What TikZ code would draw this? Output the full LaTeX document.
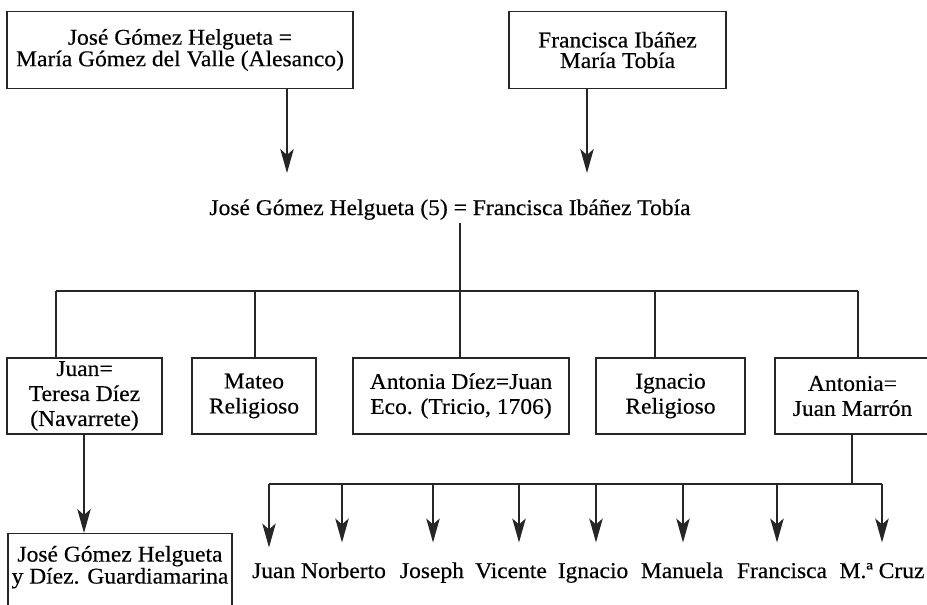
\documentclass[tikz,border=0pt]{standalone}
\usepackage{fontspec}
\setmainfont{Liberation Serif}[FakeStretch=1.045,FakeBold=0.4]
\usetikzlibrary{arrows.meta}
\begin{document}
\begin{tikzpicture}[x=1pt,y=-1pt,line width=1.1pt,draw=black!85,
  topbox/.style={draw,align=center,inner sep=0pt,font=\fontsize{22.5}{20.5}\selectfont},
  rowbox/.style={draw,align=center,inner sep=0pt,minimum height=76pt,font=\fontsize{22.5}{25}\selectfont},
  plain/.style={inner sep=3pt,font=\fontsize{22.5}{22}\selectfont},
  lab/.style={anchor=base,inner sep=0pt,text height=16pt,font=\fontsize{22.5}{22}\selectfont},
  arr/.style={-{Stealth[length=24pt,width=13.5pt,inset=6pt]}}]
\clip (0,0) rectangle (927,605);
% grandparents
\node[topbox,minimum width=346pt,minimum height=77pt] (gp1) at (180,50) {José Gómez Helgueta =\\María Gómez del Valle (Alesanco)};
\node[topbox,minimum width=217pt,minimum height=77pt] (gp2) at (617.5,50) {Francisca Ibáñez\\María Tobía};
% parents
\node[plain,anchor=base] (par) at (450,215) {José Gómez Helgueta (5) = Francisca Ibáñez Tobía};
\coordinate (t1) at (287,173);
\coordinate (t2) at (587,173);
\draw[arr] (gp1.south -| t1) -- (t1);
\draw[arr] (gp2.south -| t2) -- (t2);
% children
\node[rowbox,minimum width=155pt] (juan) at (84.5,396) {Juan=\\Teresa Díez\\(Navarrete)};
\node[rowbox,minimum width=124pt] (mateo) at (254,396) {Mateo\\Religioso};
\node[rowbox,minimum width=216pt] (antd) at (461,396) {Antonia Díez=Juan\\Eco. (Tricio, 1706)};
\node[rowbox,minimum width=149pt] (ign) at (670.5,396) {Ignacio\\Religioso};
\node[rowbox,minimum width=155pt] (antm) at (852.5,396) {Antonia=\\Juan Marrón};
\coordinate (h1) at (56,291);
\coordinate (h2) at (255,291);
\coordinate (h3) at (460,291);
\coordinate (h4) at (655,291);
\coordinate (h5) at (858,291);
\draw (par.south -| h3) -- (h3);
\draw (h1) -- (h5);
\draw (h1) -- (juan.north -| h1);
\draw (h2) -- (mateo.north -| h2);
\draw (h3) -- (antd.north -| h3);
\draw (h4) -- (ign.north -| h4);
\draw (h5) -- (antm.north -| h5);
% grandson
\node[draw,align=center,inner xsep=0pt,inner ysep=0pt,minimum width=224pt,anchor=north,
      text height=50pt,text depth=40pt,font=\fontsize{22.5}{22}\selectfont] (gb) at (120,533)
      {José Gómez Helgueta\\y Díez. Guardiamarina};
\coordinate (c84) at (84,480);
\draw[arr] (juan.south -| c84) -- (gb.north -| c84);
% children of Antonia = Juan Marron
\coordinate (m0) at (852,484);
\draw (antm.south -| m0) -- (m0);
\coordinate (b1) at (269,484);
\coordinate (b2) at (342,484);
\coordinate (b3) at (433,484);
\coordinate (b4) at (519,484);
\coordinate (b5) at (596,484);
\coordinate (b6) at (683,484);
\coordinate (b7) at (777,484);
\coordinate (b8) at (882,484);
\draw (b1) -- (b8);
\node[lab] (k1) at (319,578) {Juan Norberto};
\node[lab] (k2) at (432,578) {Joseph};
\node[lab] (k3) at (511,578) {Vicente};
\node[lab] (k4) at (593,578) {Ignacio};
\node[lab] (k5) at (682,578) {Manuela};
\node[lab] (k6) at (782,578) {Francisca};
\node[lab] (k7) at (882,578) {M.ª Cruz};
\draw[arr,shorten >=14pt] (b1) -- (k1.north -| b1);
\draw[arr,shorten >=19pt] (b2) -- (k2.north -| b2);
\draw[arr,shorten >=19pt] (b3) -- (k2.north -| b3);
\draw[arr,shorten >=19pt] (b4) -- (k3.north -| b4);
\draw[arr,shorten >=19pt] (b5) -- (k4.north -| b5);
\draw[arr,shorten >=19pt] (b6) -- (k5.north -| b6);
\draw[arr,shorten >=19pt] (b7) -- (k6.north -| b7);
\draw[arr,shorten >=19pt] (b8) -- (k7.north -| b8);
\end{tikzpicture}
\end{document}
